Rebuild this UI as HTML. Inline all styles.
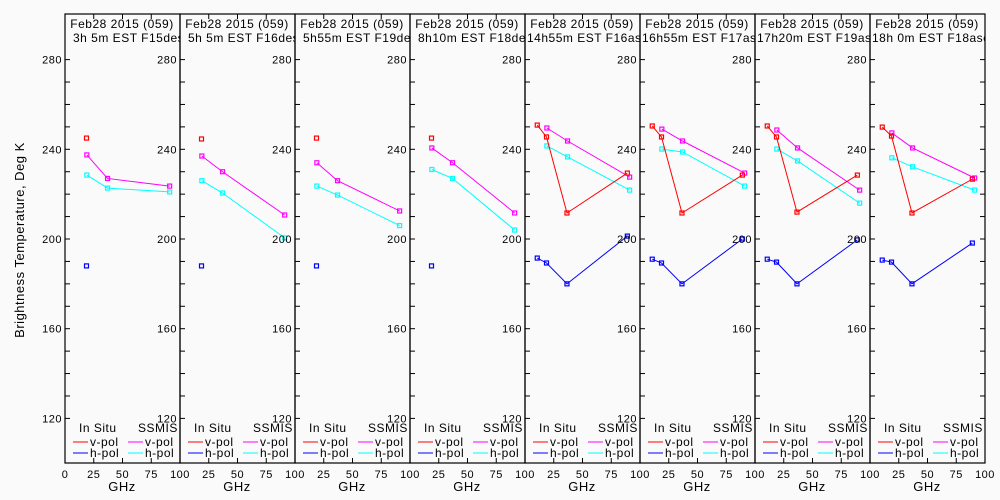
<!DOCTYPE html>
<html><head><meta charset="utf-8"><style>
html,body{margin:0;padding:0;background:#fafafa}
svg{display:block;font-family:"Liberation Sans",sans-serif}
</style></head><body>
<svg id="c" width="1000" height="500" xmlns="http://www.w3.org/2000/svg"></svg>
<script>
const labels2 = ["3h 5m EST F15des","5h 5m EST F16des","5h55m EST F19des","8h10m EST F18des","14h55m EST F16asc","16h55m EST F17asc","17h20m EST F19asc","18h 0m EST F18asc"];
const ssFreq = [19,37,91];
const isFreqAsc = [10.65,18.7,36.5,89];
const isFreqDes = [18.7];
const ssV = [[237.5,227,223.6],[237,230,210.7],[234,226,212.5],[240.6,234,211.6],[249.5,243.7,227.6],[249,243.7,229.4],[248.6,240.6,221.8],[247.3,240.6,227.2]];
const ssH = [[228.5,222.7,221],[226,220.5,200.5],[223.6,219.6,206],[231,227,204],[241.5,236.6,221.8],[240.1,238.8,223.6],[240.1,234.8,216],[236.2,232.2,221.8]];
const isV = [[245],[244.6],[245],[245],[250.8,245.5,211.6,229.4],[250.4,245.5,211.6,228.5],[250.4,245.5,212,228.5],[249.9,245.9,211.6,226.7]];
const isH = [[188],[188],[188],[188],[191.5,189.3,180,201.3],[191,189.3,180,200],[191,189.7,180,199.6],[190.6,189.7,180,198.2]];
const yTicks = [120,160,200,240,280];

const svg=document.getElementById('c');
const NS="http://www.w3.org/2000/svg";
const X0=65,PW=115,TOP=14,BOT=463;
const yS=v=>239-(v-200)*89.7/40;
function mk(t,a,p){const e=document.createElementNS(NS,t);for(const k in a)e.setAttribute(k,a[k]);(p||svg).appendChild(e);return e;}
function txt(s,x,y,a,p){const e=mk('text',Object.assign({x:x,y:y,'font-size':12,fill:'#000','letter-spacing':0.5},a||{}),p);e.textContent=s;return e;}

const yl=txt('Brightness Temperature, Deg K',0,0,{transform:'translate(24,240) rotate(-90)','text-anchor':'middle','font-size':13});



for(let p=0;p<8;p++){
  const px=X0+p*PW;
  const xS=f=>px+f*1.15;
  const g=mk('g',{});
  
  
  mk('rect',{x:px,y:TOP,width:PW,height:BOT-TOP,fill:'none',stroke:'#000','stroke-width':1.2},g);
  for(let v=120;v<=280;v+=10){
    const y=yS(v);
    mk('line',{x1:px,x2:px+5,y1:y,y2:y,stroke:'#000'},g);
    if(p==7) mk('line',{x1:px+PW-5,x2:px+PW,y1:y,y2:y,stroke:'#000'},g);
  }
  yTicks.forEach(v=>{const t=txt(String(v),px-3,yS(v)+4,{'text-anchor':'end','font-size':11},g);
    
    });
  [25,50,75].forEach(f=>{mk('line',{x1:xS(f),x2:xS(f),y1:BOT,y2:BOT-5,stroke:'#000'},g);mk('line',{x1:xS(f),x2:xS(f),y1:TOP,y2:TOP+5,stroke:'#000'},g);});
  (p==0?[0,25,50,75,100]:[25,50,75,100]).forEach(f=>{const t=txt(String(f),xS(f),478,{'text-anchor':'middle','font-size':11},g);
    
    });
  const gx=txt('GHz',px+57,491,{'text-anchor':'middle','font-size':13},g);
  
  
  const h1=txt('Feb28 2015 (059)',px+57,28,{'text-anchor':'middle','font-size':12},g);
  
  
  const cid='clip'+p;
  const cp=mk('clipPath',{id:cid},g);mk('rect',{x:px,y:0,width:PW,height:60},cp);
  const h2=txt(labels2[p],px+(p>=4?2:8),42,{'font-size':12,'clip-path':'url(#'+cid+')'},g);
  
  
  const fIS=isV[p].length>1?isFreqAsc:isFreqDes;
  const series=[[ssFreq,ssV[p],'#ff00ff','ssmis-vpol'],[ssFreq,ssH[p],'#00ffff','ssmis-hpol'],[fIS,isV[p],'#ff0000','insitu-vpol'],[fIS,isH[p],'#0000ff','insitu-hpol']];
  series.forEach(([fs,vs,c,n])=>{
    const pts=fs.map((f,i)=>xS(f)+','+yS(vs[i])).join(' ');
    if(fs.length>1){const l=mk('polyline',{points:pts,fill:'none',stroke:c,'stroke-width':1},g);
      
      }
    fs.forEach((f,i)=>{const r=mk('rect',{x:xS(f)-2,y:yS(vs[i])-2,width:4,height:4,fill:'none',stroke:c,'stroke-width':1.2},g);
      
      });
  });
  const lg=mk('g',{},g);
  
  
  txt('In Situ',px+14,432,{'font-size':12},lg);
  txt('SSMIS',px+73,432,{'font-size':12},lg);
  [['v-pol','#ff0000','#ff00ff',446],['h-pol','#0000ff','#00ffff',457]].forEach(([s,c1,c2,y])=>{
    mk('line',{x1:px+8,x2:px+23,y1:y-4,y2:y-4,stroke:c1},lg);
    txt(s,px+25,y,{'font-size':12},lg);
    mk('line',{x1:px+63,x2:px+78,y1:y-4,y2:y-4,stroke:c2},lg);
    txt(s,px+80,y,{'font-size':12},lg);
  });
}
</script>
</body></html>
